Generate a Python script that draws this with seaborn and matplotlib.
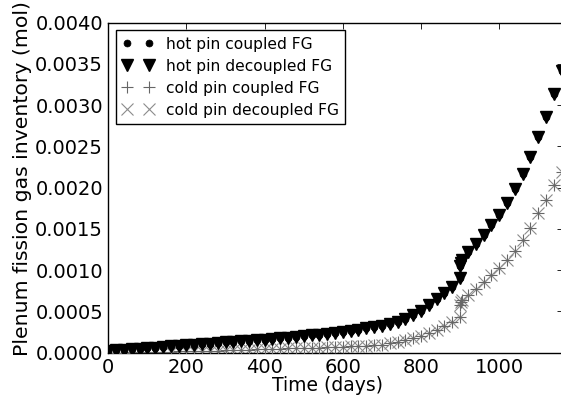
import numpy as np
import pandas as pd
import matplotlib
matplotlib.use("Agg")
import matplotlib.pyplot as plt
import seaborn as sns
from matplotlib.ticker import FormatStrFormatter, MultipleLocator

# ---- data ----
days = [0, 20, 40, 60, 80, 100, 120, 140, 160, 180, 200, 220, 240, 260, 280,
        300, 320, 340, 360, 380, 400, 420, 440, 460, 480, 500, 520, 540, 560,
        580, 600, 620, 640, 660, 680, 700, 720, 740, 760, 780, 800, 820, 840,
        860, 880, 900, 900, 902, 905, 920, 940, 960, 980, 1000, 1020, 1040,
        1060, 1080, 1100, 1120, 1140, 1160]

hot_decoupled = [0.000020, 0.000028, 0.000035, 0.000042, 0.000049, 0.000056,
                 0.000063, 0.000070, 0.000077, 0.000084, 0.000090, 0.000097,
                 0.000104, 0.000111, 0.000118, 0.000125, 0.000132, 0.000139,
                 0.000146, 0.000153, 0.000160, 0.000167, 0.000175, 0.000183,
                 0.000191, 0.000200, 0.000209, 0.000219, 0.000230, 0.000242,
                 0.000255, 0.000268, 0.000281, 0.000294, 0.000308, 0.000322,
                 0.000345, 0.000376, 0.000414, 0.000458, 0.000508, 0.000575,
                 0.000645, 0.000720, 0.000800, 0.000900, 0.001050, 0.001090,
                 0.001124, 0.001224, 0.001320, 0.001430, 0.001545, 0.001670,
                 0.001815, 0.001980, 0.002170, 0.002375, 0.002610, 0.002855,
                 0.003140, 0.003410]
hot_coupled = list(hot_decoupled)

cold_decoupled = [0.000000, 0.000001, 0.000002, 0.000004, 0.000006, 0.000008,
                  0.000010, 0.000012, 0.000014, 0.000016, 0.000018, 0.000020,
                  0.000022, 0.000024, 0.000026, 0.000028, 0.000030, 0.000033,
                  0.000036, 0.000039, 0.000042, 0.000045, 0.000048, 0.000051,
                  0.000054, 0.000057, 0.000060, 0.000063, 0.000066, 0.000069,
                  0.000072, 0.000076, 0.000080, 0.000085, 0.000090, 0.000097,
                  0.000114, 0.000133, 0.000154, 0.000175, 0.000202, 0.000235,
                  0.000275, 0.000324, 0.000376, 0.000436, 0.000580, 0.000610,
                  0.000640, 0.000699, 0.000775, 0.000855, 0.000940, 0.001030,
                  0.001125, 0.001236, 0.001366, 0.001508, 0.001690, 0.001851,
                  0.002033, 0.002194]
cold_coupled = list(cold_decoupled)

labels = ["hot pin coupled FG", "hot pin decoupled FG",
          "cold pin coupled FG", "cold pin decoupled FG"]

x_ticks = [0, 200, 400, 600, 800, 1000]

# ---- styling ----
sns.set_style("white")
plt.rcParams["font.family"] = ["DejaVu Sans"]
plt.rcParams["text.color"] = "black"
plt.rcParams["axes.labelcolor"] = "black"
plt.rcParams["xtick.color"] = "black"
plt.rcParams["ytick.color"] = "black"

fig = plt.figure(figsize=(5.61, 4.0), dpi=100)
W, H = 561.0, 400.0
left_px, right_px, top_px, bot_px = 108.3, 562.5, 22.7, 352.7
ax = fig.add_axes([left_px / W, (H - bot_px) / H,
                   (right_px - left_px) / W, (bot_px - top_px) / H])

series = [
    (hot_coupled, dict(marker="o", markersize=5, color="black",
                       markeredgecolor="black", markeredgewidth=0.5,
                       zorder=4)),
    (hot_decoupled, dict(marker="v", markersize=8, color="black",
                         markeredgecolor="black", markeredgewidth=1.0,
                         zorder=5)),
    (cold_coupled, dict(marker="+", markersize=9, color="0.4",
                        markeredgecolor="0.4", markeredgewidth=0.8,
                        zorder=3)),
    (cold_decoupled, dict(marker="x", markersize=9, color="0.55",
                          markeredgecolor="0.55", markeredgewidth=0.8,
                          zorder=2)),
]

for (vals, kw), lab in zip(series, labels):
    df = pd.DataFrame({"day": days, "value": vals})
    sns.lineplot(data=df, x="day", y="value", estimator=None, sort=False,
                 linestyle="", label=lab, ax=ax, legend=False, **kw)

ax.set_xlim(0, 1162)
ax.set_ylim(0, 0.004)
ax.set_xticks(x_ticks)
ax.yaxis.set_major_locator(MultipleLocator(0.0005))
ax.yaxis.set_major_formatter(FormatStrFormatter("%.4f"))

ax.tick_params(direction="in", top=True, right=True, length=5.6 / 1.389,
               width=0.6, labelsize=14, pad=3.8, color="black",
               labelcolor="black")
for sp in ax.spines.values():
    sp.set_color("black")
    sp.set_linewidth(1.0)

ax.set_xlabel("Time (days)", fontsize=13.5, color="black")
ax.set_ylabel("Plenum fission gas inventory (mol)", fontsize=14.7,
              color="black")
ax.xaxis.set_label_coords((327 - left_px) / (right_px - left_px), -0.072)
ax.yaxis.set_label_coords((32 - left_px) / (right_px - left_px), 0.529)

handles, labs = ax.get_legend_handles_labels()
leg = ax.legend(handles, labs, loc="upper left", numpoints=2, fontsize=11.2,
                frameon=True, fancybox=False, shadow=False, framealpha=1,
                edgecolor="black", borderpad=0.4, labelspacing=0.45,
                handlelength=2.0, handletextpad=0.8, borderaxespad=0.5)
leg.get_frame().set_linewidth(1.0)
leg.set_zorder(10)
for t in leg.get_texts():
    t.set_color("black")

fig.savefig("out.png", dpi=100)
